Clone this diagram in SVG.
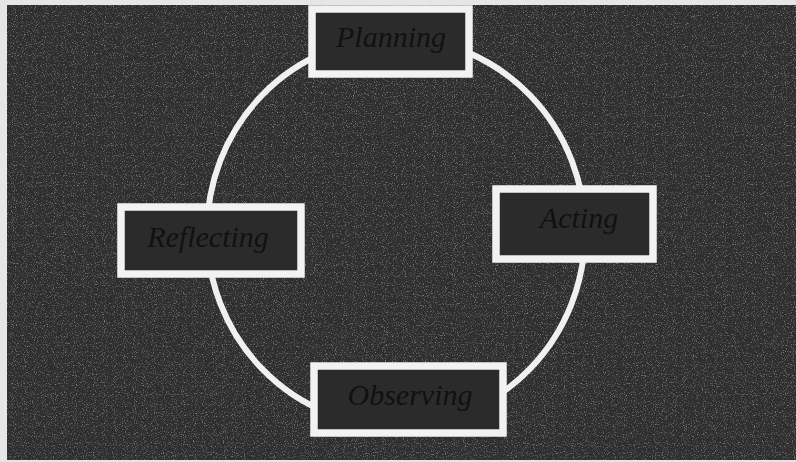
<svg xmlns="http://www.w3.org/2000/svg" width="796" height="462" viewBox="0 0 796 462">
<defs>
<style>
.box{fill:#2b2b2b;stroke:#f2f2f2;stroke-width:7.5}
.lbl{font-family:"Liberation Serif",serif;font-style:italic;font-size:30px;fill:#111;text-anchor:middle}
.cyc{fill:none;stroke:#f0f0f0;stroke-width:6}
</style>
<filter id="noise" x="0" y="0" width="100%" height="100%">
<feTurbulence type="fractalNoise" baseFrequency="0.9" numOctaves="2" seed="3" result="t"/>
<feColorMatrix in="t" type="matrix" values="0 0 0 0 0.75  0 0 0 0 0.75  0 0 0 0 0.75  0 0 0 3 -1.6" result="n"/>
<feComposite in="n" in2="SourceGraphic" operator="in"/>
</filter>
</defs>
<rect x="0" y="0" width="796" height="462" fill="#e6e6e6"/>
<rect x="7" y="5" width="789" height="455" fill="#2e2e2e"/>
<rect x="7" y="5" width="789" height="455" fill="#2e2e2e" filter="url(#noise)" opacity="0.5"/>
<g id="connectors">
<ellipse class="cyc" cx="396" cy="232" rx="189" ry="194"/>
</g>
<g id="planning">
<rect class="box" x="312" y="9" width="157" height="65"/>
<text class="lbl" x="391" y="47">Planning</text>
</g>
<g id="acting">
<rect class="box" x="496" y="189" width="157" height="70"/>
<text class="lbl" x="579" y="228">Acting</text>
</g>
<g id="reflecting">
<rect class="box" x="121" y="207" width="180" height="67"/>
<text class="lbl" x="208" y="247">Reflecting</text>
</g>
<g id="observing">
<rect class="box" x="314" y="366" width="189" height="67"/>
<text class="lbl" x="410" y="405">Observing</text>
</g>
</svg>
